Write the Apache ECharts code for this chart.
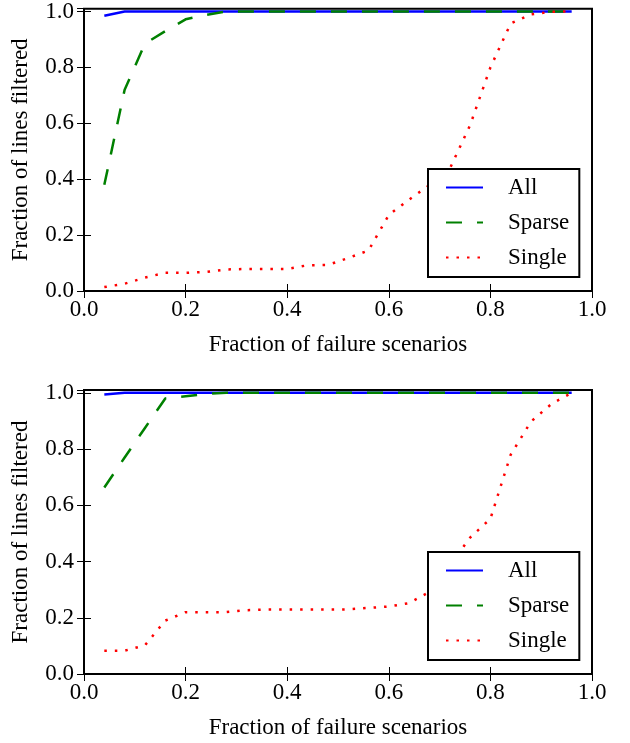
<!DOCTYPE html>
<html>
	<head>
		<meta charset="utf-8">
		<title></title>
		<style>
			html, body { margin: 0; padding: 0; background: #fff; }
			#main { width: 630px; height: 743px; }
		</style>
	</head>
	<body>
		<div id="main"></div>
		<script src="https://cdn.jsdelivr.net/npm/echarts@6.0.0/dist/echarts.min.js"></script>
		<script type="text/javascript">
			// x positions (fraction of failure scenarios)
			var xs = [0.04, 0.08, 0.12, 0.16, 0.20, 0.24, 0.28, 0.32, 0.36, 0.40, 0.44, 0.48,
				0.52, 0.56, 0.60, 0.64, 0.68, 0.72, 0.76, 0.80, 0.84, 0.88, 0.92, 0.96];
			var seriesNames = ['All', 'Sparse', 'Single'];
			var tickLabels = ['0.0', '0.2', '0.4', '0.6', '0.8', '1.0'];

			// top panel
			var topAll = [0.985, 1, 1, 1, 1, 1, 1, 1, 1, 1, 1, 1, 1, 1, 1, 1, 1, 1, 1, 1, 1, 1, 1, 1];
			var topSparse = [0.38, 0.72, 0.885, 0.93, 0.972, 0.988, 1, 1, 1, 1, 1, 1, 1, 1, 1, 1, 1, 1, 1, 1, 1, 1, 1, 1];
			var topSingle = [0.014, 0.026, 0.048, 0.065, 0.065, 0.068, 0.077, 0.079, 0.079, 0.079, 0.092, 0.093,
				0.118, 0.145, 0.272, 0.327, 0.379, 0.437, 0.593, 0.80, 0.957, 0.99, 0.999, 1.0];

			// bottom panel
			var botAll = [0.994, 1, 1, 1, 1, 1, 1, 1, 1, 1, 1, 1, 1, 1, 1, 1, 1, 1, 1, 1, 1, 1, 1, 1];
			var botSparse = [0.663, 0.77, 0.875, 0.98, 0.988, 0.996, 1, 1, 1, 1, 1, 1, 1, 1, 1, 1, 1, 1, 1, 1, 1, 1, 1, 1];
			var botSingle = [0.083, 0.083, 0.102, 0.19, 0.22, 0.22, 0.22, 0.227, 0.229, 0.229, 0.229, 0.229,
				0.23, 0.235, 0.24, 0.252, 0.292, 0.385, 0.485, 0.552, 0.78, 0.898, 0.96, 1.0];

			var FONT = '"Liberation Serif", "DejaVu Serif", serif';
			var colors = ['#0000ff', '#008000', '#ff0000'];
			var lineTypes = ['solid', [16, 15], [2.5, 8]];

			function pairs(vals) {
				var arr = [];
				for (var i = 0; i < xs.length; i++) {
					arr.push([xs[i], vals[i]]);
				}
				return arr;
			}

			function tickFmt(v) {
				var k = Math.round(v / 0.2);
				if (Math.abs(v - k * 0.2) > 1e-6) return '';
				return tickLabels[k] || '';
			}

			function makeX(grid, pos, withLabels) {
				return {
					type: 'value', gridIndex: grid, position: pos, min: 0, max: 1, interval: 0.2,
					axisLine: {show: false},
					axisTick: {show: true, inside: true, length: 7, lineStyle: {color: '#000', width: 1}},
					splitLine: {show: false},
					axisLabel: {show: withLabels, formatter: tickFmt, margin: 7, color: '#000', fontFamily: FONT, fontSize: 23},
					name: withLabels ? 'Fraction of failure scenarios' : '',
					nameLocation: 'middle', nameGap: 42,
					nameTextStyle: {color: '#000', fontFamily: FONT, fontSize: 23}
				};
			}

			function makeY(grid, pos, withLabels) {
				return {
					type: 'value', gridIndex: grid, position: pos, min: 0, max: 1.01, interval: 0.2,
					axisLine: {show: false},
					axisTick: {show: true, inside: true, length: 7, lineStyle: {color: '#000', width: 1}},
					splitLine: {show: false},
					axisLabel: {show: withLabels, formatter: tickFmt, margin: 10, color: '#000', fontFamily: FONT, fontSize: 23},
					name: withLabels ? 'Fraction of lines filtered' : '',
					nameLocation: 'middle', nameGap: 52,
					nameTextStyle: {color: '#000', fontFamily: FONT, fontSize: 23}
				};
			}

			function makeLegend(top) {
				return {
					orient: 'vertical', left: 428, top: top,
					data: seriesNames,
					backgroundColor: '#fff', borderColor: '#000', borderWidth: 2, borderRadius: 0,
					padding: [7, 10, 8, 17],
					itemWidth: 37, itemHeight: 14, itemGap: 12,
					selectedMode: false,
					// hide the marker a line series puts in its legend icon
					itemStyle: {color: 'rgba(0,0,0,0)', borderColor: 'rgba(0,0,0,0)', borderWidth: 0},
					textStyle: {color: '#000', fontFamily: FONT, fontSize: 23, padding: [0, 0, 0, 20]}
				};
			}

			var panels = [[topAll, topSparse, topSingle], [botAll, botSparse, botSingle]];
			var series = [];
			for (var p = 0; p < 2; p++) {
				for (var s = 0; s < 3; s++) {
					series.push({
						name: seriesNames[s],
						type: 'line',
						xAxisIndex: p * 2, yAxisIndex: p * 2,
						data: pairs(panels[p][s]),
						symbol: 'none',
						silent: true,
						color: colors[s],
						lineStyle: {color: colors[s], width: 2.5, type: lineTypes[s], cap: 'butt'}
					});
				}
			}

			var myChart = echarts.init(document.getElementById('main'), null, {renderer: 'canvas'});
			var option = {
				animation: false,
				backgroundColor: '#fff',
				textStyle: {fontFamily: FONT},
				grid: [
					{left: 84, top: 7, width: 508, height: 284, show: true, borderColor: '#000', borderWidth: 2, backgroundColor: 'transparent'},
					{left: 84, top: 390, width: 508, height: 284, show: true, borderColor: '#000', borderWidth: 2, backgroundColor: 'transparent'}
				],
				xAxis: [makeX(0, 'bottom', true), makeX(0, 'top', false), makeX(1, 'bottom', true), makeX(1, 'top', false)],
				yAxis: [makeY(0, 'left', true), makeY(0, 'right', false), makeY(1, 'left', true), makeY(1, 'right', false)],
				legend: [makeLegend(169), makeLegend(552)],
				series: series
			};
			myChart.setOption(option);
		</script>
	</body>
</html>
